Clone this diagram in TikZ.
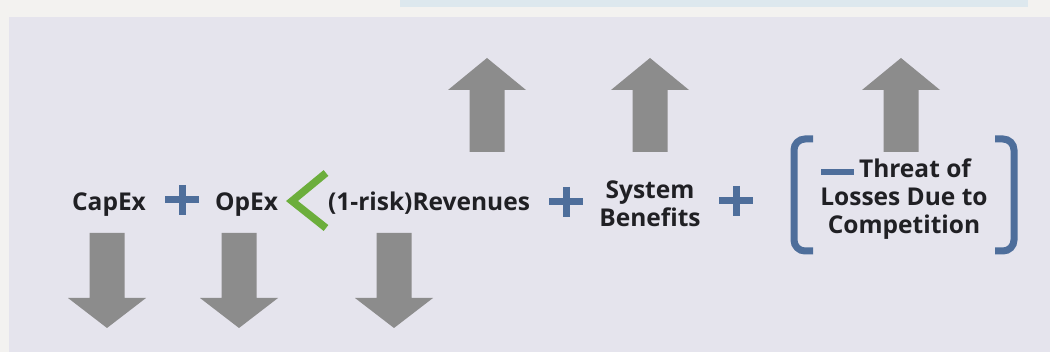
\documentclass[tikz,border=0pt]{standalone}
\usepackage{fontspec}
\setmainfont{Open Sans}
\usepackage{tikz}
\usetikzlibrary{positioning, calc}
\definecolor{mypanel}{RGB}{229,228,237}
\definecolor{mystrip}{RGB}{243,242,240}
\definecolor{mysky}{RGB}{221,232,238}
\definecolor{mygray}{RGB}{140,140,140}
\definecolor{myblue}{RGB}{78,110,155}
\definecolor{mygreen}{RGB}{108,174,60}
\definecolor{mydark}{RGB}{32,32,36}
\tikzset{
  term/.style={inner sep=0pt, font=\fontsize{24.5}{28}\selectfont\bfseries,
    text=mydark, align=center},
  plussign/.style={rectangle, minimum width=34pt, minimum height=30pt,
    inner sep=0pt, path picture={
      \draw[myblue, line width=7pt]
        (path picture bounding box.west) -- (path picture bounding box.east)
        (path picture bounding box.north) -- (path picture bounding box.south);}},
  bigarrow/.style={fill=mygray},
  bracket/.style={draw=myblue, line width=7pt, rounded corners=11pt}
}

\begin{document}
\begin{tikzpicture}[x=1pt, y=-1pt]
  \useasboundingbox (0,0) rectangle (1050,352);

  % --- background ---
  \fill[mystrip] (0,0) rectangle (1050,352);
  \fill[mysky] (400,0) rectangle (1028,7);
  \fill[mypanel] (9,17) rectangle (1050,352);

  % --- terms ---
  \node[term, anchor=base] (capex) at (109,210.5) {CapEx};
  \node[plussign] (plusA) at (182,200) {};
  \node[term, anchor=base] (opex) at (246.5,210.5) {OpEx};
  \draw[mygreen, line width=7.5pt, line join=miter] (326,173) -- (292,201) -- (326,228);
  \node[term, anchor=base] (rev) at (429,210.5) {(1-risk)Revenues};
  \node[plussign] (plusB) at (566,202) {};
  \node[term] (sysben) at (650,204) {System\\Benefits};
  \node[plussign] (plusC) at (736,201) {};

  % --- competition ---
  \draw[bracket] (813,139) -- (794,139) -- (794,251) -- (813,251);
  \draw[bracket] (995,139) -- (1014,139) -- (1014,251) -- (995,251);
  \node[term] (threat) at (904,199)
    {\textcolor{myblue}{\rule[2pt]{33pt}{6pt}}\hspace{5pt}Threat of\makebox[16pt]{}\\
     Losses Due to\\Competition};

  % --- arrows down ---
  \foreach \x in {107,239,394}
    \fill[bigarrow] (\x-17.5,233) -- (\x+17.5,233) -- (\x+17.5,298) -- (\x+39,298)
      -- (\x,328) -- (\x-39,298) -- (\x-17.5,298) -- cycle;

  % --- arrows up ---
  \foreach \x in {487,650,901}
    \fill[bigarrow] (\x-17.5,152) -- (\x+17.5,152) -- (\x+17.5,90) -- (\x+39,90)
      -- (\x,58) -- (\x-39,90) -- (\x-17.5,90) -- cycle;
\end{tikzpicture}
\end{document}
